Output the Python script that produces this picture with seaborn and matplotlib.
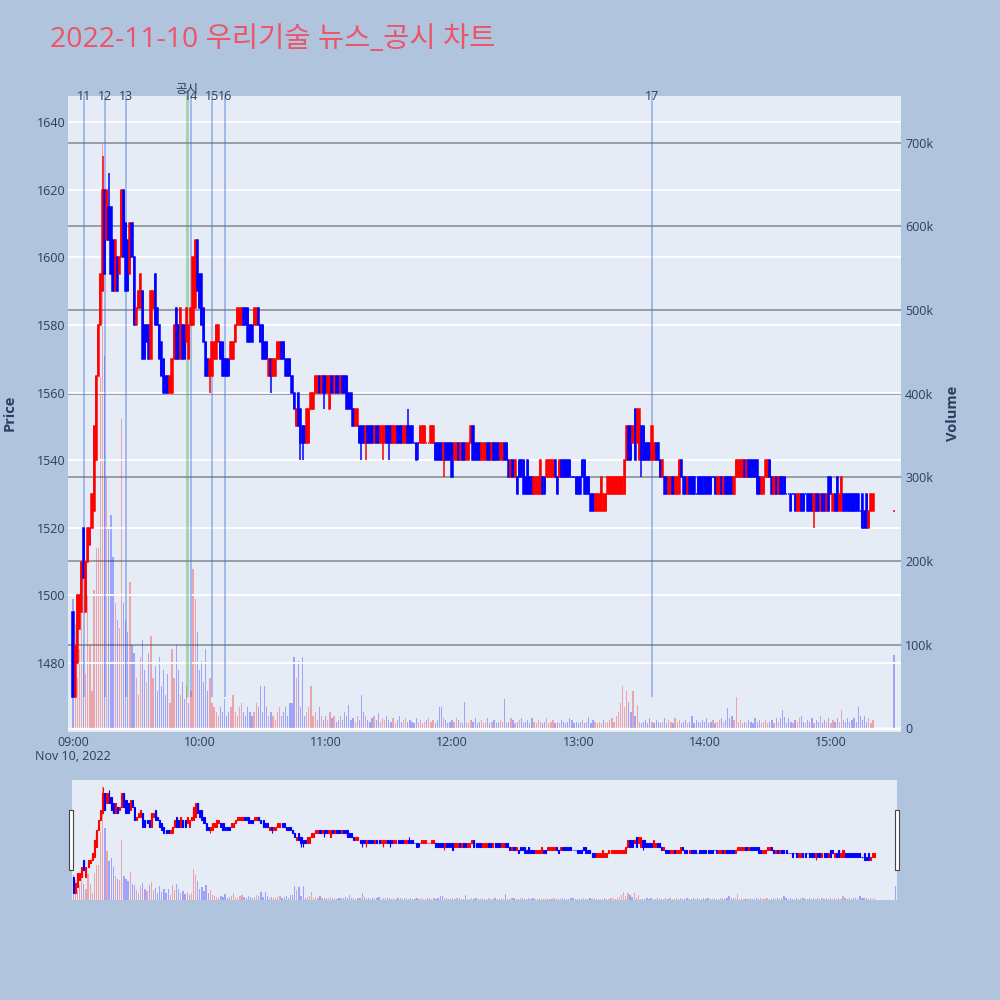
import numpy as np
import pandas as pd
import matplotlib
matplotlib.use("Agg")
import matplotlib.pyplot as plt
from matplotlib.patches import Rectangle
import seaborn as sns

title = "2022-11-10 우리기술 뉴스_공시 차트"

# 1-minute candles 09:00 ~ 15:20, last one is the 15:30 closing auction
opens = [
    1495, 1470, 1480, 1490, 1495, 1520, 1495, 1510, 1515, 1520,
    1525, 1540, 1565, 1580, 1590, 1620, 1605, 1615, 1615, 1605,
    1590, 1600, 1595, 1600, 1620, 1610, 1605, 1595, 1610, 1600,
    1580, 1585, 1585, 1590, 1580, 1580, 1580, 1570, 1585, 1595,
    1585, 1580, 1575, 1570, 1565, 1565, 1560, 1560, 1570, 1585,
    1580, 1570, 1580, 1580, 1575, 1570, 1580, 1580, 1585, 1605,
    1595, 1595, 1585, 1575, 1570, 1565, 1565, 1570, 1570, 1575,
    1575, 1575, 1570, 1570, 1570, 1570, 1570, 1575, 1580, 1580,
    1580, 1585, 1585, 1585, 1580, 1580, 1580, 1580, 1585, 1580,
    1580, 1575, 1575, 1565, 1570, 1565, 1565, 1570, 1570, 1575,
    1575, 1570, 1570, 1570, 1565, 1560, 1550, 1560, 1555, 1550,
    1550, 1545, 1545, 1555, 1555, 1560, 1560, 1565, 1560, 1565,
    1565, 1560, 1555, 1565, 1560, 1565, 1565, 1560, 1565, 1565,
    1565, 1560, 1560, 1555, 1550, 1550, 1550, 1550, 1550, 1545,
    1550, 1550, 1550, 1545, 1550, 1550, 1545, 1545, 1545, 1550,
    1550, 1550, 1545, 1545, 1550, 1550, 1550, 1545, 1545, 1550,
    1550, 1550, 1545, 1545, 1545, 1545, 1545, 1545, 1545, 1545,
    1545, 1545, 1545, 1545, 1545, 1545, 1540, 1545, 1545, 1545,
    1545, 1540, 1540, 1545, 1540, 1545, 1545, 1540, 1540, 1545,
    1550, 1545, 1545, 1545, 1540, 1540, 1540, 1545, 1545, 1540,
    1545, 1545, 1545, 1540, 1540, 1545, 1545, 1540, 1535, 1540,
    1535, 1535, 1540, 1540, 1540, 1535, 1540, 1535, 1535, 1530,
    1530, 1530, 1530, 1535, 1535, 1535, 1535, 1535, 1535, 1540,
    1535, 1535, 1540, 1540, 1540, 1540, 1540, 1535, 1535, 1535,
    1535, 1535, 1540, 1540, 1535, 1535, 1530, 1530, 1525, 1525,
    1525, 1525, 1525, 1525, 1530, 1530, 1530, 1530, 1530, 1530,
    1530, 1530, 1530, 1540, 1550, 1550, 1545, 1555, 1545, 1540,
    1550, 1550, 1545, 1545, 1545, 1540, 1540, 1545, 1545, 1540,
    1535, 1535, 1535, 1530, 1530, 1535, 1530, 1530, 1530, 1540,
    1535, 1535, 1530, 1535, 1535, 1535, 1530, 1535, 1535, 1535,
    1535, 1535, 1535, 1535, 1535, 1535, 1530, 1530, 1535, 1530,
    1535, 1535, 1535, 1535, 1530, 1535, 1535, 1535, 1535, 1540,
    1535, 1540, 1540, 1540, 1540, 1540, 1535, 1530, 1530, 1535,
    1535, 1540, 1535, 1530, 1535, 1530, 1535, 1535, 1535, 1530,
    1530, 1530, 1530, 1530, 1525, 1525, 1530, 1530, 1530, 1530,
    1530, 1530, 1525, 1530, 1530, 1525, 1530, 1530, 1525, 1535,
    1535, 1525, 1530, 1535, 1525, 1525, 1530, 1530, 1530, 1530,
    1530, 1530, 1530, 1530, 1525, 1530, 1525, 1530, 1520, 1525,
    1525, 1525,
]
closes = [
    1470, 1485, 1500, 1500, 1510, 1505, 1510, 1520, 1520, 1530,
    1550, 1565, 1580, 1595, 1620, 1595, 1620, 1605, 1595, 1590,
    1605, 1590, 1600, 1620, 1600, 1590, 1590, 1610, 1600, 1580,
    1585, 1590, 1595, 1570, 1570, 1575, 1570, 1590, 1590, 1580,
    1580, 1570, 1565, 1560, 1560, 1560, 1565, 1570, 1580, 1570,
    1570, 1585, 1570, 1570, 1585, 1580, 1585, 1600, 1605, 1590,
    1585, 1580, 1575, 1565, 1565, 1570, 1575, 1575, 1580, 1580,
    1570, 1565, 1565, 1565, 1565, 1575, 1575, 1580, 1585, 1585,
    1585, 1580, 1580, 1575, 1575, 1575, 1585, 1585, 1580, 1575,
    1570, 1570, 1570, 1570, 1565, 1570, 1570, 1575, 1575, 1570,
    1570, 1565, 1565, 1565, 1560, 1555, 1555, 1550, 1545, 1545,
    1545, 1555, 1555, 1560, 1560, 1565, 1565, 1560, 1565, 1560,
    1560, 1565, 1565, 1560, 1565, 1560, 1560, 1565, 1560, 1560,
    1555, 1555, 1555, 1550, 1555, 1555, 1545, 1545, 1545, 1550,
    1545, 1545, 1545, 1550, 1545, 1545, 1550, 1550, 1550, 1545,
    1545, 1545, 1550, 1550, 1545, 1545, 1545, 1550, 1550, 1545,
    1545, 1545, 1545, 1540, 1545, 1550, 1550, 1550, 1545, 1545,
    1550, 1550, 1540, 1540, 1540, 1540, 1545, 1540, 1540, 1540,
    1535, 1545, 1545, 1540, 1545, 1540, 1540, 1545, 1545, 1550,
    1540, 1540, 1540, 1540, 1545, 1545, 1545, 1540, 1540, 1545,
    1540, 1540, 1540, 1545, 1545, 1540, 1540, 1535, 1540, 1535,
    1540, 1530, 1535, 1535, 1530, 1530, 1530, 1530, 1530, 1535,
    1535, 1535, 1540, 1530, 1530, 1540, 1540, 1540, 1540, 1535,
    1530, 1540, 1535, 1535, 1535, 1535, 1535, 1535, 1535, 1530,
    1530, 1530, 1535, 1530, 1530, 1530, 1525, 1525, 1530, 1530,
    1530, 1535, 1530, 1530, 1535, 1535, 1535, 1535, 1535, 1535,
    1535, 1535, 1540, 1550, 1540, 1540, 1550, 1540, 1555, 1555,
    1540, 1540, 1540, 1540, 1540, 1550, 1545, 1540, 1540, 1535,
    1540, 1530, 1530, 1535, 1535, 1530, 1535, 1535, 1540, 1535,
    1530, 1530, 1535, 1530, 1530, 1530, 1530, 1530, 1530, 1530,
    1530, 1530, 1530, 1530, 1535, 1530, 1535, 1535, 1530, 1535,
    1530, 1530, 1530, 1530, 1535, 1540, 1540, 1540, 1540, 1535,
    1540, 1535, 1535, 1535, 1535, 1530, 1530, 1535, 1535, 1540,
    1540, 1535, 1530, 1535, 1530, 1535, 1530, 1530, 1530, 1530,
    1530, 1525, 1530, 1525, 1530, 1530, 1525, 1525, 1530, 1525,
    1525, 1525, 1530, 1525, 1525, 1530, 1525, 1525, 1530, 1525,
    1530, 1530, 1525, 1525, 1530, 1535, 1525, 1525, 1525, 1525,
    1525, 1525, 1525, 1525, 1525, 1520, 1520, 1520, 1525, 1530,
    1530, 1525,
]
# volume in thousand shares
volume_k = [
    155, 125, 60, 95, 155, 100, 65, 160, 100, 45,
    165, 215, 215, 420, 700, 445, 300, 240, 255, 205,
    150, 130, 120, 370, 150, 130, 115, 175, 100, 90,
    60, 40, 85, 105, 70, 55, 90, 110, 60, 75,
    45, 85, 50, 70, 40, 65, 30, 95, 60, 100,
    70, 40, 55, 35, 50, 30, 45, 190, 155, 115,
    70, 80, 55, 95, 45, 60, 30, 25, 20, 15,
    25, 20, 35, 15, 20, 25, 40, 20, 15, 25,
    30, 20, 15, 25, 20, 15, 20, 30, 25, 50,
    20, 50, 25, 15, 20, 15, 10, 20, 25, 15,
    20, 25, 15, 30, 30, 85, 60, 80, 25, 85,
    15, 20, 25, 50, 15, 20, 10, 25, 15, 10,
    15, 10, 20, 12, 15, 8, 10, 15, 10, 20,
    15, 28, 10, 12, 8, 15, 10, 40, 20, 15,
    10, 8, 12, 15, 10, 18, 8, 12, 10, 15,
    10, 8, 12, 6, 10, 15, 8, 10, 12, 8,
    10, 8, 6, 12, 8, 10, 6, 8, 10, 12,
    8, 10, 6, 10, 25, 25, 12, 10, 6, 8,
    10, 8, 12, 10, 8, 6, 31, 8, 6, 10,
    8, 12, 6, 8, 10, 6, 8, 12, 6, 8,
    10, 6, 8, 10, 8, 35, 6, 8, 12, 10,
    6, 8, 10, 12, 6, 8, 10, 6, 12, 8,
    6, 10, 8, 6, 8, 12, 6, 8, 10, 6,
    8, 6, 10, 8, 6, 8, 12, 10, 6, 8,
    6, 8, 10, 6, 8, 14, 6, 10, 8, 6,
    8, 6, 10, 6, 8, 10, 12, 8, 15, 20,
    30, 50, 25, 45, 32, 20, 45, 15, 28, 8,
    6, 8, 10, 6, 12, 8, 6, 10, 8, 6,
    8, 12, 6, 10, 8, 6, 12, 8, 10, 6,
    8, 10, 6, 8, 15, 6, 10, 8, 6, 10,
    8, 12, 6, 8, 10, 6, 8, 10, 12, 8,
    10, 24, 12, 15, 10, 37, 8, 10, 6, 8,
    6, 10, 8, 6, 12, 8, 10, 6, 8, 10,
    6, 8, 10, 6, 12, 8, 12, 22, 14, 6,
    12, 8, 6, 10, 8, 12, 15, 8, 6, 10,
    8, 12, 6, 10, 8, 15, 6, 10, 8, 12,
    6, 10, 8, 12, 8, 22, 10, 8, 12, 8,
    10, 12, 8, 25, 15, 10, 15, 8, 12, 6,
    10, 88,
]
wick_high = {"09:14": 1630, "09:17": 1625, "11:39": 1555}
wick_low = {"10:05": 1560, "10:34": 1560, "10:48": 1540, "10:49": 1540,
            "10:59": 1555, "11:17": 1540, "11:19": 1540, "11:27": 1540,
            "11:30": 1540, "11:44": 1540, "11:56": 1535, "13:30": 1535,
            "14:52": 1520}

# news / disclosure markers
news_labels = ["11", "12", "13", "공시", "14", "15", "16", "17"]
news_times = ["09:05", "09:15", "09:25", "09:54", "09:56", "10:06", "10:12", "13:35"]

RED, BLUE = "#FF0000", "#0000FF"
INK = "#2a3f5f"
PLOT_BG = "#E5ECF6"
PAPER = "#B0C4DE"

sns.set_theme(style="white")
plt.rcParams["font.family"] = ["Open Sans", "Noto Sans CJK KR", "DejaVu Sans"]

t0 = pd.Timestamp("2022-11-10 09:00")
stamps = list(pd.date_range(t0, periods=len(opens) - 1, freq="min")) + [pd.Timestamp("2022-11-10 15:30")]
df = pd.DataFrame({"time": stamps, "open": opens, "close": closes,
                   "volume": np.array(volume_k) * 1000})
df["minute"] = (df["time"] - t0).dt.total_seconds() / 60
df["hm"] = df["time"].dt.strftime("%H:%M")
df["high"] = df[["open", "close"]].max(axis=1)
df["low"] = df[["open", "close"]].min(axis=1)
for t, v in wick_high.items():
    df.loc[df["hm"] == t, "high"] = v
for t, v in wick_low.items():
    df.loc[df["hm"] == t, "low"] = v

# candle colour: flat candles keep the previous direction (like plotly)
up, last = [], False
for o, c in zip(df["open"], df["close"]):
    if c != o:
        last = c > o
    up.append(last)
df["up"] = up
prev_close = df["close"].shift()
df["vdir"] = np.where(df["close"] > prev_close, "up",
                      np.where(df["close"] < prev_close, "down",
                               np.where(df["up"], "up", "down")))


def to_min(hm):
    return (int(hm[:2]) - 9) * 60 + int(hm[3:])


def draw_candles(a, lw, width):
    col = np.where(df["up"], RED, BLUE)
    a.vlines(df["minute"], df["low"], df["high"], colors=col, linewidth=lw, zorder=3)
    a.bar(df["minute"], df["close"] - df["open"], bottom=df["open"], width=width,
          color=col, edgecolor=col, linewidth=lw, zorder=4)


def draw_volume(a):
    sns.barplot(data=df, x="minute", y="volume", hue="vdir",
                palette={"up": RED, "down": BLUE}, native_scale=True, dodge=False,
                width=0.6, alpha=0.3, saturation=1, errorbar=None, legend=False,
                linewidth=0, ax=a)
    a.set_xlabel("")
    a.set_ylabel("")


fig = plt.figure(figsize=(10, 10), dpi=100, facecolor=PAPER)

# main chart
ax = fig.add_axes([0.068, 0.268, 0.833, 0.636])
axv = ax.twinx()
ax.set_zorder(axv.get_zorder() + 1)
ax.patch.set_visible(False)
axv.patch.set_visible(True)
axv.patch.set_facecolor(PLOT_BG)

draw_volume(axv)
axv.set_ylim(-4.4e3, 755.7e3)
vt = np.arange(0, 700001, 100000)
axv.set_yticks(vt)
axv.set_yticklabels(["0"] + [f"{int(v / 1000)}k" for v in vt[1:]])
axv.set_axisbelow(True)
axv.grid(axis="y", color="#8b8f98", linewidth=1.2)
axv.grid(axis="x", visible=False)
axv.axhline(0, color="white", linewidth=2, zorder=0.6)
axv.tick_params(axis="y", length=0, pad=3, labelsize=9, labelcolor=INK)

draw_candles(ax, lw=1.1, width=0.55)
ax.set_ylim(1459.6, 1647.7)
ax.set_yticks(range(1480, 1641, 20))
ax.set_axisbelow(True)
ax.grid(axis="y", color="white", linewidth=1.3)
ax.grid(axis="x", visible=False)
ax.tick_params(axis="y", length=0, pad=2, labelsize=9, labelcolor=INK)

for lab, t in zip(news_labels, news_times):
    m = to_min(t)
    if lab == "공시":
        ax.vlines(m, 1470, 1660, color="#4caf50", alpha=0.4, linewidth=2.2, zorder=2)
        ty = 1.011
    else:
        ax.vlines(m, 1470, 1660, color="royalblue", alpha=0.4, linewidth=1.4, zorder=2)
        ty = 1.0
    ax.text(m, ty, lab, transform=ax.get_xaxis_transform(), ha="center", va="center",
            fontsize=9, color=INK, clip_on=False, zorder=6)

hours = list(range(9, 16))
ax.set_xticks([(h - 9) * 60 for h in hours])
ax.set_xticklabels([f"{h:02d}:00" for h in hours])
ax.tick_params(axis="x", length=0, pad=3, labelsize=9, labelcolor=INK)
ax.text(0, -0.0393, "Nov 10, 2022", transform=ax.get_xaxis_transform(),
        ha="center", va="center", fontsize=9, color=INK)
ax.set_xlim(-2.4, 393.3)
for a in (ax, axv):
    sns.despine(ax=a, left=True, bottom=True, right=True, top=True)

fig.text(0.010, 0.587, "Price", rotation=90, ha="center", va="center",
         fontsize=10.5, fontweight="bold", color=INK)
fig.text(0.953, 0.587, "Volume", rotation=90, ha="center", va="center",
         fontsize=10.5, fontweight="bold", color=INK)
fig.text(0.050, 0.960, title, fontsize=20.5, color="#EE5468", ha="left", va="center")

# range slider
axs = fig.add_axes([0.072, 0.100, 0.825, 0.120])
axsv = axs.twinx()
axs.set_zorder(axsv.get_zorder() + 1)
axs.patch.set_visible(False)
axsv.patch.set_visible(True)
axsv.patch.set_facecolor(PLOT_BG)
draw_volume(axsv)
axsv.set_ylim(0, 737e3)
draw_candles(axs, lw=0.8, width=0.5)
axs.set_ylim(1460, 1640)
axs.set_xlim(-0.6, 390.6)
for a in (axs, axsv):
    a.set_xticks([])
    a.set_yticks([])
    a.grid(False)
    sns.despine(ax=a, left=True, bottom=True, right=True, top=True)

for xc in (0.071, 0.897):
    fig.add_artist(Rectangle((xc - 0.002, 0.130), 0.004, 0.060, transform=fig.transFigure,
                             facecolor="white", edgecolor="#444444", linewidth=0.8, zorder=10))

fig.savefig("out.png", dpi=100, facecolor=PAPER)
